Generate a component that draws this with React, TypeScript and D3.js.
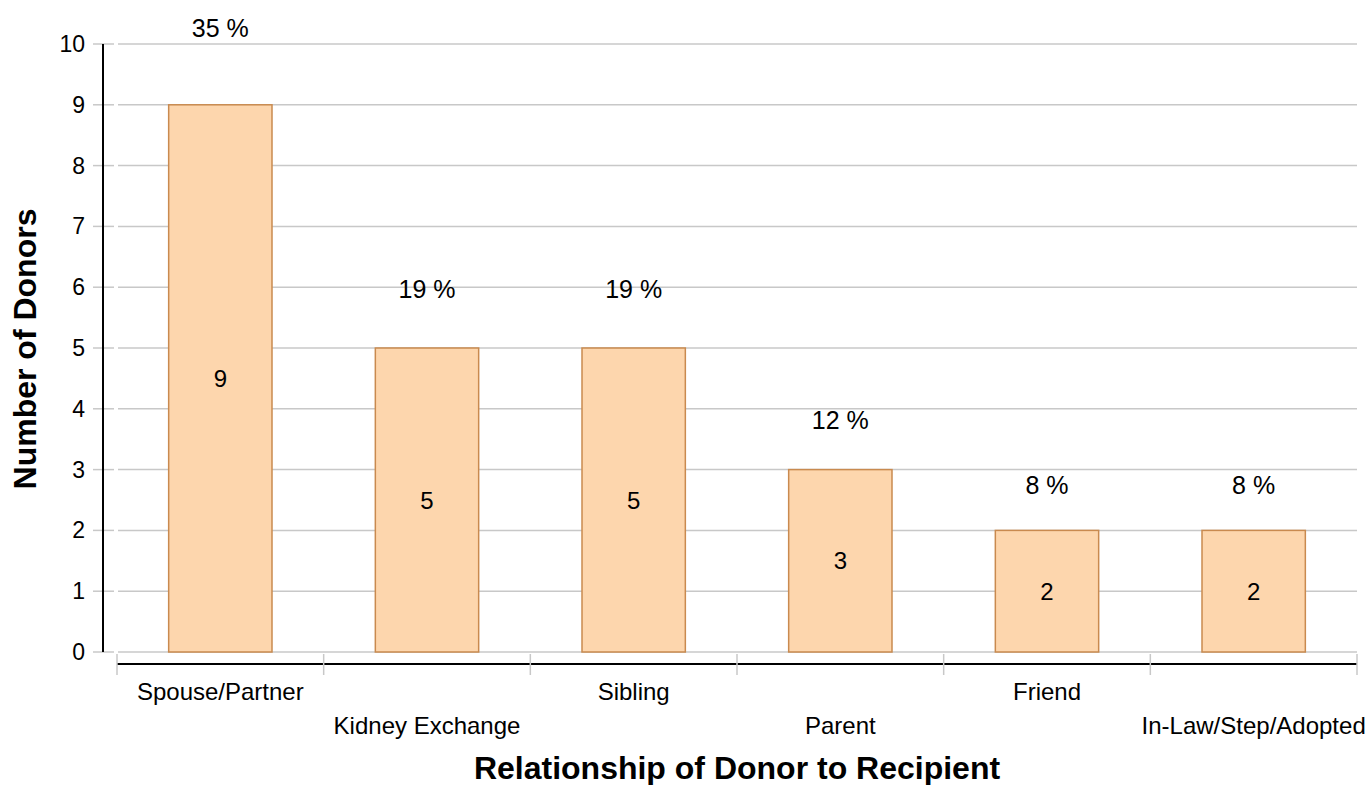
import React from "react";
import * as d3 from "d3";

const categories = ["Spouse/Partner", "Kidney Exchange", "Sibling", "Parent", "Friend", "In-Law/Step/Adopted"];
const donors = [9, 5, 5, 3, 2, 2];
const percents = ["35 %", "19 %", "19 %", "12 %", "8 %", "8 %"];
const yTicks = [0, 1, 2, 3, 4, 5, 6, 7, 8, 9, 10];

const W = 1366;
const H = 785;
const FONT = "Liberation Sans, Arial, Helvetica, sans-serif";

export default function App() {
  const x = d3.scaleBand<string>().domain(categories).range([117, 1357]).paddingInner(0).paddingOuter(0);
  const y = d3.scaleLinear().domain([0, 10]).range([652, 44]);
  const bw = x.bandwidth();
  const barW = bw / 2;
  const bounds = categories.map((c) => x(c) as number).concat([1357]);

  return (
    <svg width={W} height={H} style={{ position: "absolute", left: 0, top: 0, background: "#fff" }} fontFamily={FONT}>
      {yTicks.map((t) => (
        <g key={"g" + t}>
          <line x1={118} x2={1357} y1={y(t)} y2={y(t)} stroke="#c8c8c8" strokeWidth={1.5} />
          <line x1={93} x2={114} y1={y(t)} y2={y(t)} stroke="#c8c8c8" strokeWidth={1.5} />
          <text x={85} y={y(t)} textAnchor="end" dominantBaseline="central" fontSize={23} fill="#000">
            {t}
          </text>
        </g>
      ))}
      <line x1={103} x2={103} y1={44} y2={652} stroke="#000" strokeWidth={2} />
      {categories.map((c, i) => {
        const cx = (x(c) as number) + bw / 2;
        return (
          <g key={c}>
            <rect
              x={cx - barW / 2}
              y={y(donors[i])}
              width={barW}
              height={y(0) - y(donors[i])}
              fill="#fdd6ad"
              stroke="#c98a4f"
              strokeWidth={1.5}
            />
            <text x={cx} y={y(donors[i] / 2)} textAnchor="middle" dominantBaseline="central" fontSize={24} fill="#000">
              {donors[i]}
            </text>
            <text
              x={cx}
              y={y(donors[i] * 1.073 + 0.6)}
              textAnchor="middle"
              dominantBaseline="central"
              fontSize={25}
              fill="#000"
            >
              {percents[i]}
            </text>
            <text
              x={cx}
              y={i % 2 === 0 ? 691 : 725}
              textAnchor="middle"
              dominantBaseline="central"
              fontSize={24}
              fill="#000"
            >
              {c}
            </text>
          </g>
        );
      })}
      <line x1={117} x2={1357} y1={664} y2={664} stroke="#000" strokeWidth={2} />
      {bounds.map((b, i) => (
        <line key={"t" + i} x1={b} x2={b} y1={654} y2={675} stroke="#c8c8c8" strokeWidth={1.5} />
      ))}
      <text x={737} y={768} textAnchor="middle" dominantBaseline="central" fontSize={32} fontWeight="bold" fill="#000">
        Relationship of Donor to Recipient
      </text>
      <text
        transform={`translate(25,349) rotate(-90)`}
        textAnchor="middle"
        dominantBaseline="central"
        fontSize={32}
        fontWeight="bold"
        fill="#000"
      >
        Number of Donors
      </text>
    </svg>
  );
}
